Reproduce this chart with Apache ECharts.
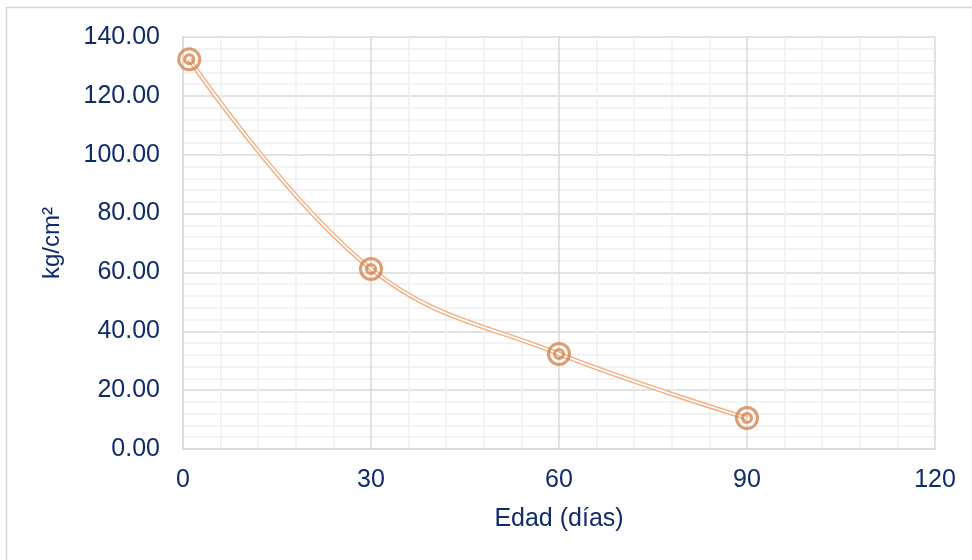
<!DOCTYPE html>
<html>
<head>
<meta charset="utf-8">
<script src="https://cdn.jsdelivr.net/npm/echarts@6/dist/echarts.min.js"></script>
<style>
html,body{margin:0;padding:0;background:#fff;}
#c{width:972px;height:560px;}
</style>
</head>
<body>
<div id="c"></div>
<script>
var ageDays = [1, 30, 60, 90];
var strength = [132.4, 61.2, 32.3, 10.5];
var xTicks = [0, 30, 60, 90, 120];
var yTicks = [0, 20, 40, 60, 80, 100, 120, 140];
var xTitle = 'Edad (días)';
var yTitle = 'kg/cm²';

var points = ageDays.map(function (d, i) { return [d, strength[i]]; });
var txt = '#0E2C6A';
var font = '"Liberation Sans", Arial, sans-serif';

var chart = echarts.init(document.getElementById('c'), null, {renderer: 'canvas'});
chart.setOption({
  animation: false,
  backgroundColor: '#fff',
  graphic: [{
    type: 'rect', z: 100, silent: true,
    shape: {x: 6.5, y: 7.5, width: 1000, height: 1000},
    style: {fill: 'none', stroke: '#D6D6D6', lineWidth: 1.5}
  }],
  grid: {left: 183, right: 37, top: 37, bottom: 111},
  xAxis: {
    type: 'value', min: xTicks[0], max: xTicks[xTicks.length - 1], interval: 30,
    name: xTitle, nameLocation: 'middle', nameGap: 58,
    nameTextStyle: {color: txt, fontSize: 25, fontFamily: font},
    axisLine: {show: true, lineStyle: {color: '#D9D9D9', width: 1.5}},
    axisTick: {show: false},
    axisLabel: {color: txt, fontSize: 25, fontFamily: font, margin: 19},
    splitLine: {show: true, lineStyle: {color: '#D9D9D9', width: 1.5}},
    minorTick: {show: false, splitNumber: 5},
    minorSplitLine: {show: true, lineStyle: {color: '#F0F0F0', width: 1.5}}
  },
  yAxis: {
    type: 'value', min: yTicks[0], max: yTicks[yTicks.length - 1], interval: 20,
    name: yTitle, nameLocation: 'middle', nameGap: 119, nameRotate: 90,
    nameTextStyle: {color: txt, fontSize: 24, fontFamily: font},
    axisLine: {show: true, lineStyle: {color: '#D9D9D9', width: 1.5}},
    axisTick: {show: false},
    axisLabel: {color: txt, fontSize: 25, fontFamily: font, margin: 23,
      formatter: function (v) { return v.toFixed(2); }},
    splitLine: {show: true, lineStyle: {color: '#D9D9D9', width: 1.5}},
    minorTick: {show: false, splitNumber: 5},
    minorSplitLine: {show: true, lineStyle: {color: '#F0F0F0', width: 1.5}}
  },
  series: [
    {type: 'line', data: points, smooth: 0.4, symbol: 'none', z: 2,
      lineStyle: {color: '#F2AE80', width: 4.5}},
    {type: 'line', data: points, smooth: 0.4, symbol: 'none', z: 3,
      lineStyle: {color: '#ffffff', width: 1.8}},
    {type: 'scatter', data: points, symbol: 'circle', symbolSize: 21, z: 4,
      itemStyle: {color: 'rgba(0,0,0,0)', borderColor: '#D6834C', borderWidth: 3}},
    {type: 'scatter', data: points, symbol: 'circle', symbolSize: 9, z: 5,
      itemStyle: {color: 'rgba(0,0,0,0)', borderColor: '#D6834C', borderWidth: 3}}
  ]
});
</script>
</body>
</html>
